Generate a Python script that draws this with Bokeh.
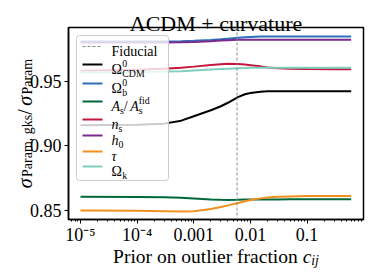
import math
from bokeh.plotting import figure
from bokeh.models import (Range1d, FixedTicker, CustomJSTickFormatter, Span, Label,
                          BoxAnnotation, PolyAnnotation, GlobalInlineStyleSheet)
from bokeh.embed import file_html
from bokeh.resources import INLINE

# ---------------- data ----------------
c_prior = [1e-5, 1e-4, 3e-4, 6e-4, 1e-3, 2e-3, 3e-3, 4e-3, 6e-3, 8e-3,
           1e-2, 1.5e-2, 2e-2, 3e-2, 5e-2, 1e-1, 3e-1, 6e-1]

omega_cdm = [0.9159, 0.9162, 0.9171, 0.9194, 0.9228, 0.9274, 0.9305, 0.9332, 0.9375, 0.9398,
             0.9407, 0.9417, 0.9421, 0.9421, 0.9421, 0.9421, 0.9421, 0.9421]
omega_b = [0.9805, 0.9805, 0.9805, 0.9807, 0.9810, 0.9817, 0.9822, 0.9827, 0.9834, 0.9838,
           0.9840, 0.9843, 0.9844, 0.9844, 0.9844, 0.9844, 0.9844, 0.9844]
a_s = [0.8607, 0.8605, 0.8602, 0.8598, 0.8593, 0.8586, 0.8583, 0.8582, 0.8583, 0.8585,
       0.8585, 0.8586, 0.8586, 0.8586, 0.8587, 0.8587, 0.8587, 0.8587]
n_s = [0.9580, 0.9586, 0.9594, 0.9603, 0.9611, 0.9624, 0.9630, 0.9633, 0.9632, 0.9627,
       0.9622, 0.9613, 0.9605, 0.9599, 0.9595, 0.9593, 0.9591, 0.9590]
h_0 = [0.9798, 0.9798, 0.9798, 0.9799, 0.9802, 0.9807, 0.9812, 0.9815, 0.9818, 0.9819,
       0.9819, 0.9818, 0.9818, 0.9818, 0.9818, 0.9818, 0.9818, 0.9818]
tau = [0.8500, 0.8498, 0.8495, 0.8493, 0.8494, 0.8512, 0.8528, 0.8540, 0.8559, 0.8572,
       0.8582, 0.8594, 0.8601, 0.8606, 0.8609, 0.8612, 0.8613, 0.8613]
omega_k = [0.9568, 0.9570, 0.9573, 0.9576, 0.9581, 0.9588, 0.9592, 0.9595, 0.9599, 0.9601,
           0.9602, 0.9602, 0.9602, 0.9603, 0.9603, 0.9603, 0.9603, 0.9603]

series_names = ["Omega_CDM", "Omega_b", "A_s/A_s_fid", "n_s", "h_0", "tau", "Omega_k"]
series_values = [omega_cdm, omega_b, a_s, n_s, h_0, tau, omega_k]
series_colors = ["#000000", "#2c6fbb", "#00693a", "#c4173d", "#7b2a8e", "#f2901d", "#7fcfbf"]

fiducial_c = 0.0058

x_tick_values = [1e-5, 1e-4, 1e-3, 1e-2, 1e-1]
x_tick_labels = ["10\u207b\u2075", "10\u207b\u2074", "0.001", "0.01", "0.1"]
y_tick_values = [0.85, 0.90, 0.95]
y_tick_labels = ["0.85", "0.90", "0.95"]

title_text = "\u039bCDM + curvature"
FONT = "Liberation Serif"

# ---------------- figure ----------------
FW, FH = 295, 192  # frame size in px
LOG_LO, LOG_HI = -5.212, math.log10(0.99)
Y_LO, Y_HI = 0.8431, 0.9913
p = figure(frame_width=FW, frame_height=FH, x_axis_type="log", title=None,
           x_range=Range1d(10 ** LOG_LO, 10 ** LOG_HI), y_range=Range1d(Y_LO, Y_HI),
           output_backend="svg", toolbar_location=None,
           min_border_left=68, min_border_right=11, min_border_top=27, min_border_bottom=54)
p.stylesheets = [GlobalInlineStyleSheet(css="html, body { overflow: hidden !important; }")]
p.grid.visible = False
p.outline_line_color = "black"
p.outline_line_width = 1.5
p.background_fill_color = "white"
p.border_fill_color = "white"

minor = [m * 10 ** k for k in range(-6, 1) for m in range(2, 10)]
minor = [v for v in minor if 10 ** LOG_LO <= v <= 10 ** LOG_HI]
p.xaxis.ticker = FixedTicker(ticks=x_tick_values, minor_ticks=minor)
p.xaxis.formatter = CustomJSTickFormatter(
    args=dict(vals=x_tick_values, labs=x_tick_labels),
    code="""for (let i = 0; i < vals.length; i++) {
              if (Math.abs(Math.log10(tick) - Math.log10(vals[i])) < 1e-6) return labs[i];
            } return "";""")
p.yaxis.ticker = FixedTicker(ticks=y_tick_values, minor_ticks=[])
p.yaxis.formatter = CustomJSTickFormatter(
    args=dict(vals=y_tick_values, labs=y_tick_labels),
    code="""for (let i = 0; i < vals.length; i++) {
              if (Math.abs(tick - vals[i]) < 1e-6) return labs[i];
            } return "";""")
for ax in (p.xaxis[0], p.yaxis[0]):
    ax.axis_line_width = 1.5
    ax.axis_line_color = "black"
    ax.major_tick_out = 4
    ax.major_tick_in = 0
    ax.minor_tick_out = 2
    ax.minor_tick_in = 0
    ax.major_tick_line_color = "black"
    ax.minor_tick_line_color = "black"
    ax.major_label_text_font = FONT
    ax.major_label_text_font_size = "18px"
    ax.major_label_text_color = "black"
    ax.major_label_standoff = 3
p.xaxis[0].major_label_standoff = 1

for vals, col in zip(series_values, series_colors):
    p.line(c_prior, vals, line_color=col, line_width=2)

p.add_layout(Span(location=fiducial_c, dimension="height", line_color="#8a8a8a",
                  line_dash="3 2", line_width=1))

# ---------------- text helpers ----------------
W = {' ': .25, ',': .25, '.': .25, '/': .45, '+': .564, 'A': .722, 'C': .667, 'D': .722,
     'M': .889, 'F': .556, 'P': .556, 'a': .444, 'b': .5, 'c': .444, 'd': .5, 'e': .444,
     'f': .333, 'g': .5, 'h': .5, 'i': .278, 'j': .278, 'k': .5, 'l': .278, 'm': .778,
     'n': .5, 'o': .5, 'r': .333, 's': .389, 't': .278, 'u': .5, 'v': .5,
     '\u03a9': .77, '\u03c3': .56, '\u03c4': .45, '\u039b': .72}
WI = {'A': .611, 'c': .444, 'i': .278, 'j': .278}


def measure(text, size, italic=False):
    return sum((WI.get(ch) if italic and ch in WI else W.get(ch, .5)) for ch in text) * size


def px_to_data(sx, sy):
    """frame-relative pixel offsets (x right, y up) -> data coordinates"""
    x = 10 ** (LOG_LO + sx / FW * (LOG_HI - LOG_LO))
    y = Y_LO + sy / FH * (Y_HI - Y_LO)
    return x, y


def add_label(x, y, text, size, italic=False, angle=0.0, align="left", baseline="alphabetic"):
    kw = dict(text=text, text_font=FONT, text_font_size=f"{size:.1f}px",
              text_font_style="italic" if italic else "normal", text_color="black",
              text_align=align, text_baseline=baseline, angle=angle)
    inside = 0 <= x <= FW and 0 <= y <= FH
    if inside:
        p.add_layout(Label(x=x, y=y, x_units="screen", y_units="screen", **kw))
    else:
        # text outside the frame: hosted in a side panel so it is not clipped,
        # positioned through the plot's own scales
        dx, dy = px_to_data(x, y)
        p.add_layout(Label(x=dx, y=dy, x_units="data", y_units="data", **kw), "below")


def run(x, y, items, size, angle=0.0, draw=True, sub=0.2):
    ca, sa = math.cos(angle), math.sin(angle)
    pos = 0.0
    for text, kind, italic, adv in items:
        s = size if kind == "base" else size * 0.7
        dy = {"base": 0.0, "sub": -sub * size, "sup": 0.40 * size}[kind]
        if draw:
            add_label(x + pos * ca - dy * sa, y + pos * sa + dy * ca, text, s, italic, angle)
        if adv:
            pos += measure(text, s, italic)
    return pos


# legend (inside the frame)
p.add_layout(BoxAnnotation(left=8, right=100, bottom=39, top=184,
                           left_units="screen", right_units="screen",
                           bottom_units="screen", top_units="screen",
                           fill_color="white", fill_alpha=0.8,
                           line_color="#cccccc", line_alpha=1.0, line_width=1,
                           border_radius=3))
row_y = [173, 155, 136, 118, 100, 84, 68, 53]
legend_items = [
    [("Fiducial", "base", False, True)],
    [("\u03a9", "base", False, True), ("0", "sup", False, False), ("CDM", "sub", False, True)],
    [("\u03a9", "base", False, True), ("0", "sup", False, False), ("b", "sub", False, True)],
    [("A", "base", True, True), ("s", "sub", False, True), ("/", "base", False, True),
     ("A", "base", True, True), ("fid", "sup", False, False), ("s", "sub", False, True)],
    [("n", "base", True, True), ("s", "sub", False, True)],
    [("h", "base", True, True), ("0", "sub", False, True)],
    [("\u03c4", "base", True, True)],
    [("\u03a9", "base", False, True), ("k", "sub", False, True)],
]
swatch_colors = ["#8a8a8a"] + series_colors
for i, (yy, items) in enumerate(zip(row_y, legend_items)):
    p.add_layout(PolyAnnotation(xs=[14, 34], ys=[yy, yy], xs_units="screen", ys_units="screen",
                                line_color=swatch_colors[i], line_alpha=1.0,
                                line_width=1 if i == 0 else 2,
                                line_dash="3 2" if i == 0 else "solid",
                                fill_color=None, fill_alpha=0))
    run(43, yy - 5, items, 14, sub=0.25)

# title
add_label(FW / 2, FH + 4, title_text, 22, align="center")

# x label
xl_items = [("Prior on outlier fraction ", "base", False, True),
            ("c", "base", True, True), ("ij", "sub", True, True)]
w = run(0, 0, xl_items, 19.5, draw=False)
run(FW / 2 - w / 2, -37, xl_items, 19.5, sub=0.2)

# y label (rotated)
yl_items = [("\u03c3", "base", True, True), ("Param, gks", "sub", False, True),
            ("/", "base", False, True), ("\u03c3", "base", True, True),
            ("Param", "sub", False, True)]
w = run(0, 0, yl_items, 20, angle=math.pi / 2, draw=False)
run(-44, FH / 2 - w / 2, yl_items, 20, angle=math.pi / 2, sub=0.15)

open("out.html", "w").write(file_html(p, INLINE))
